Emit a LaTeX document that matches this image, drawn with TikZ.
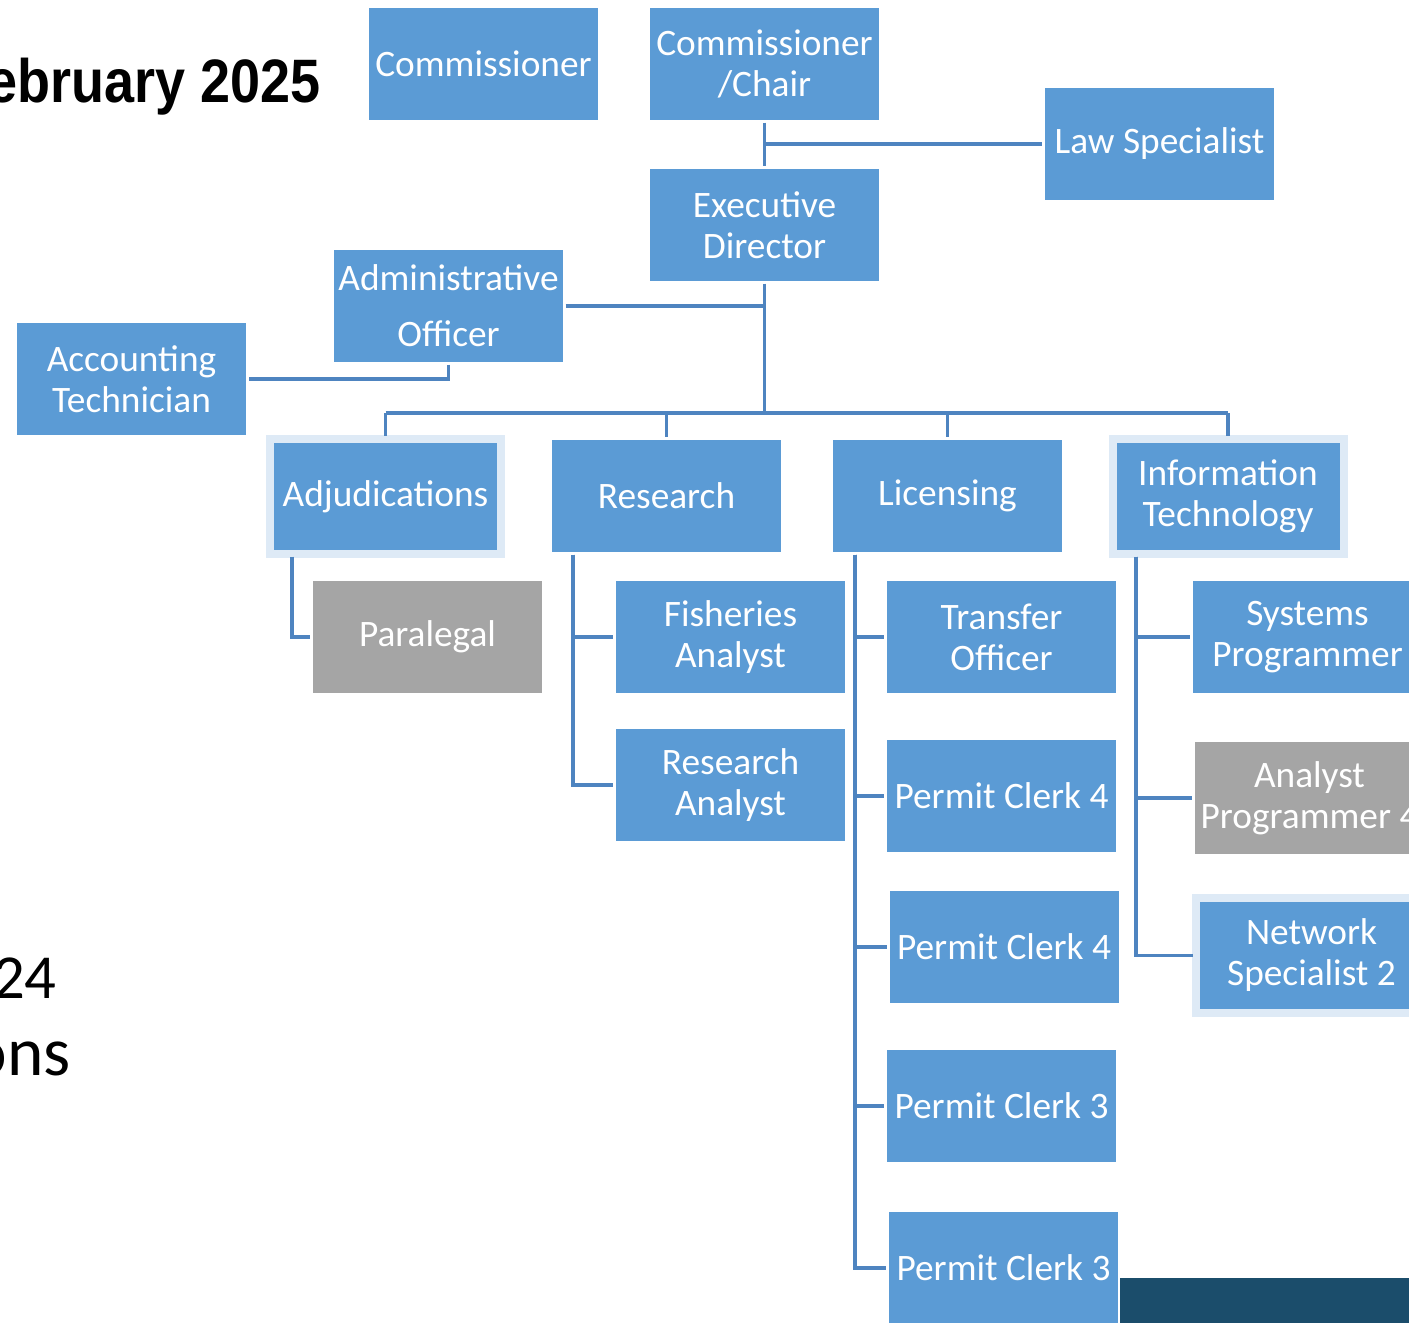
\documentclass[tikz,border=0pt]{standalone}
\usepackage{fontspec}
\setmainfont{Carlito}
\newfontfamily\titlefont[FakeStretch=0.88]{Liberation Sans}
\definecolor{boxblue}{HTML}{5B9BD5}
\definecolor{boxgray}{HTML}{A5A5A5}
\definecolor{halo}{HTML}{DEEAF6}
\definecolor{linkblue}{HTML}{4E84C0}
\definecolor{darkbar}{HTML}{1B4D6B}
\tikzset{
  box/.style={rectangle, fill=boxblue, text=white, minimum width=171.75pt, minimum height=84pt,
    inner sep=0pt, outer sep=0pt, align=center, font=\fontsize{28}{30.75}\selectfont},
  graybox/.style={box, fill=boxgray},
  halobox/.style={box, draw=halo, line width=6pt, minimum width=173.25pt, minimum height=86.25pt},
  conn/.style={draw=linkblue, line width=2.3pt, shorten <=2pt, shorten >=2pt},
  bigtext/.style={inner sep=0pt, anchor=base east}
}
\begin{document}
\begin{tikzpicture}[x=0.75pt, y=-0.75pt]
\useasboundingbox (0,0) rectangle (1409,1323);
\clip (0,0) rectangle (1409,1323);
% free texts
\node[bigtext, font=\titlefont\bfseries\fontsize{46}{50}\selectfont] (title) at (321,103) {February 2025};
\node[bigtext, font=\fontsize{47}{52}\selectfont] (yr) at (57,998) {24};
\node[bigtext, font=\fontsize{52}{56}\selectfont] (pos) at (71,1075) {ons};
% boxes
\node[box] (comm) at (483.5,64) {Commissioner};
\node[box] (chair) at (764.5,64) {Commissioner\\/Chair};
\node[box] (law) at (1159.5,144) {Law Specialist};
\node[box] (exec) at (764.5,225) {Executive\\Director};
\node[box, font=\fontsize{28}{42}\selectfont] (admin) at (448.5,306) {Administrative\\Officer};
\node[box] (acct) at (131.5,379) {Accounting\\Technician};
\node[halobox] (adj) at (385.5,496.5) {Adjudications};
\node[box] (res) at (666.5,496) {Research};
\node[box] (lic) at (947.5,496) {Licensing};
\node[halobox] (it) at (1228,496.5) {Information\\Technology};
\node[graybox] (para) at (427.5,637) {Paralegal};
\node[box] (fish) at (730.5,637) {Fisheries\\Analyst};
\node[box] (ran) at (730.5,785) {Research\\Analyst};
\node[box] (trans) at (1001.5,637) {Transfer\\Officer};
\node[box] (pca) at (1001.5,796) {Permit Clerk 4};
\node[box] (pcb) at (1004,947) {Permit Clerk 4};
\node[box] (pcc) at (1001.5,1106) {Permit Clerk 3};
\node[box] (pcd) at (1003.5,1268) {Permit Clerk 3};
\node[box] (sys) at (1307.5,637) {Systems\\Programmer};
\node[graybox] (ap) at (1309.5,798) {Analyst\\Programmer 4};
\node[halobox] (net) at (1311.5,955.5) {Network\\Specialist 2};
\fill[darkbar] (1120,1278) rectangle (1409,1323);
% connectors
\coordinate (bus) at (764.5,413);
\draw[conn] (chair.south) -- (exec.north);
\draw[conn, shorten <=0pt] (law.west -| chair.south) -- (law.west);
\draw[conn, shorten >=0pt] (exec.south) -- (bus);
\draw[conn, shorten >=0pt] (admin.east) -- (admin.east -| exec.south);
\draw[conn] (admin.south) |- (acct.east);
\draw[conn, shorten <=0pt, shorten >=0pt] (adj.north |- bus) -- (it.north |- bus);
\foreach \n in {adj,res,lic,it}{
  \draw[conn, shorten <=0pt] (\n.north |- bus) -- (\n.north);
}
\draw[conn] ([xshift=16.5pt]adj.south west) |- (para.west);
\foreach \n in {fish,ran}{
  \draw[conn] ([xshift=15.75pt]res.south west) |- (\n.west);
}
\foreach \n in {trans,pca,pcb,pcc,pcd}{
  \draw[conn] ([xshift=16.5pt]lic.south west) |- (\n.west);
}
\foreach \n in {sys,ap,net}{
  \draw[conn] ([xshift=17.6pt]it.south west) |- (\n.west);
}
\end{tikzpicture}
\end{document}
